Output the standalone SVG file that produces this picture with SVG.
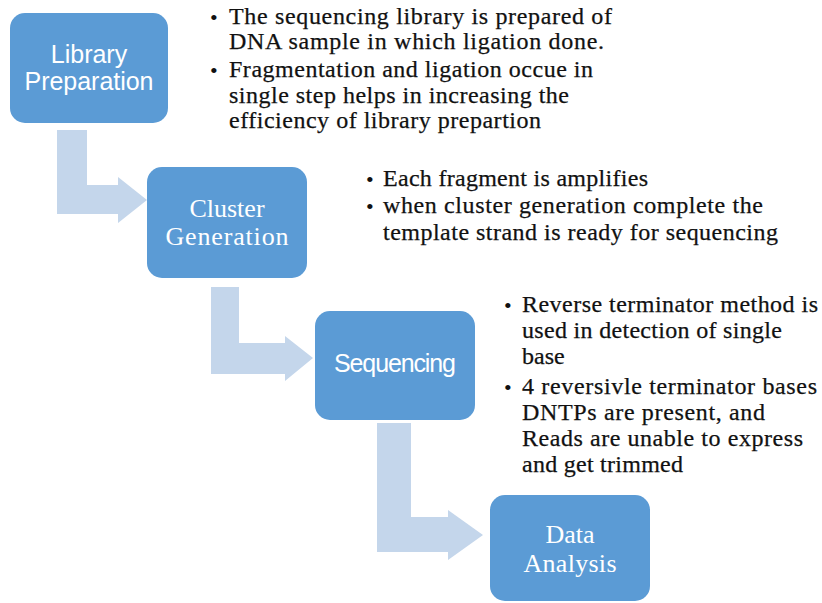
<svg xmlns="http://www.w3.org/2000/svg" width="822" height="603" viewBox="0 0 822 603">
<style>
.box{fill:#5b9bd5;}
.arrow{fill:#c4d6eb;}
.lbl{fill:#ffffff;text-anchor:middle;}
.sans{font-family:"Liberation Sans",Arial,sans-serif;font-size:25px;}
.serif{font-family:"Liberation Serif","Times New Roman",serif;font-size:26px;}
.note{font-family:"Liberation Serif","Times New Roman",serif;font-size:24px;fill:#111111;stroke:#111111;stroke-width:0.25px;}
.bul{font-family:"Liberation Serif","Times New Roman",serif;font-size:22px;fill:#111111;}
</style>
<rect width="822" height="603" fill="#ffffff"/>
<g id="connectors">
<polygon class="arrow" points="57,130 87,130 87,185 118,185 118,177 147,200 118,223 118,214 57,214"/>
<polygon class="arrow" points="211,287 239,287 239,343 285,343 285,336 313,358 285,381 285,374 211,374"/>
<polygon class="arrow" points="377,423 411,423 411,517 448,517 448,510 483,535 448,560 448,552 377,552"/>
</g>
<g id="library-preparation">
<rect class="box" x="10" y="13" width="158" height="110" rx="15"/>
<text class="lbl sans" x="89" y="63">Library</text>
<text class="lbl sans" x="89" y="90" textLength="129">Preparation</text>
</g>
<g id="cluster-generation">
<rect class="box" x="147" y="167" width="160" height="111" rx="15"/>
<text class="lbl serif" x="227" y="217">Cluster</text>
<text class="lbl serif" x="227" y="245" textLength="123">Generation</text>
</g>
<g id="sequencing">
<rect class="box" x="315" y="311" width="160" height="109" rx="15"/>
<text class="lbl sans" x="395" y="372" textLength="122">Sequencing</text>
</g>
<g id="data-analysis">
<rect class="box" x="490" y="495" width="160" height="106" rx="15"/>
<text class="lbl serif" x="570" y="543">Data</text>
<text class="lbl serif" x="570" y="572" textLength="93">Analysis</text>
</g>
<g id="notes-library">
<text class="bul" x="210" y="25">•</text>
<text class="note" x="229" y="24" textLength="383" lengthAdjust="spacing">The sequencing library is prepared of</text>
<text class="note" x="229" y="49" textLength="375" lengthAdjust="spacing">DNA sample in which ligation done.</text>
<text class="bul" x="210" y="78">•</text>
<text class="note" x="229" y="77" textLength="364" lengthAdjust="spacing">Fragmentation and ligation occue in</text>
<text class="note" x="229" y="103" textLength="340" lengthAdjust="spacing">single step helps in increasing the</text>
<text class="note" x="229" y="128" textLength="312" lengthAdjust="spacing">efficiency of library prepartion</text>
</g>
<g id="notes-cluster">
<text class="bul" x="366" y="187">•</text>
<text class="note" x="383" y="186" textLength="265" lengthAdjust="spacing">Each fragment is amplifies</text>
<text class="bul" x="366" y="214">•</text>
<text class="note" x="383" y="213" textLength="380" lengthAdjust="spacing">when cluster generation complete the</text>
<text class="note" x="383" y="240" textLength="395" lengthAdjust="spacing">template strand is ready for sequencing</text>
</g>
<g id="notes-sequencing">
<text class="bul" x="504" y="313">•</text>
<text class="note" x="522" y="312" textLength="296" lengthAdjust="spacing">Reverse terminator method is</text>
<text class="note" x="522" y="338" textLength="260" lengthAdjust="spacing">used in detection of single</text>
<text class="note" x="522" y="364">base</text>
<text class="bul" x="504" y="395">•</text>
<text class="note" x="522" y="394" textLength="295" lengthAdjust="spacing">4 reversivle terminator bases</text>
<text class="note" x="522" y="420" textLength="243" lengthAdjust="spacing">DNTPs are present, and</text>
<text class="note" x="522" y="446" textLength="281" lengthAdjust="spacing">Reads are unable to express</text>
<text class="note" x="522" y="472" textLength="161" lengthAdjust="spacing">and get trimmed</text>
</g>
</svg>
